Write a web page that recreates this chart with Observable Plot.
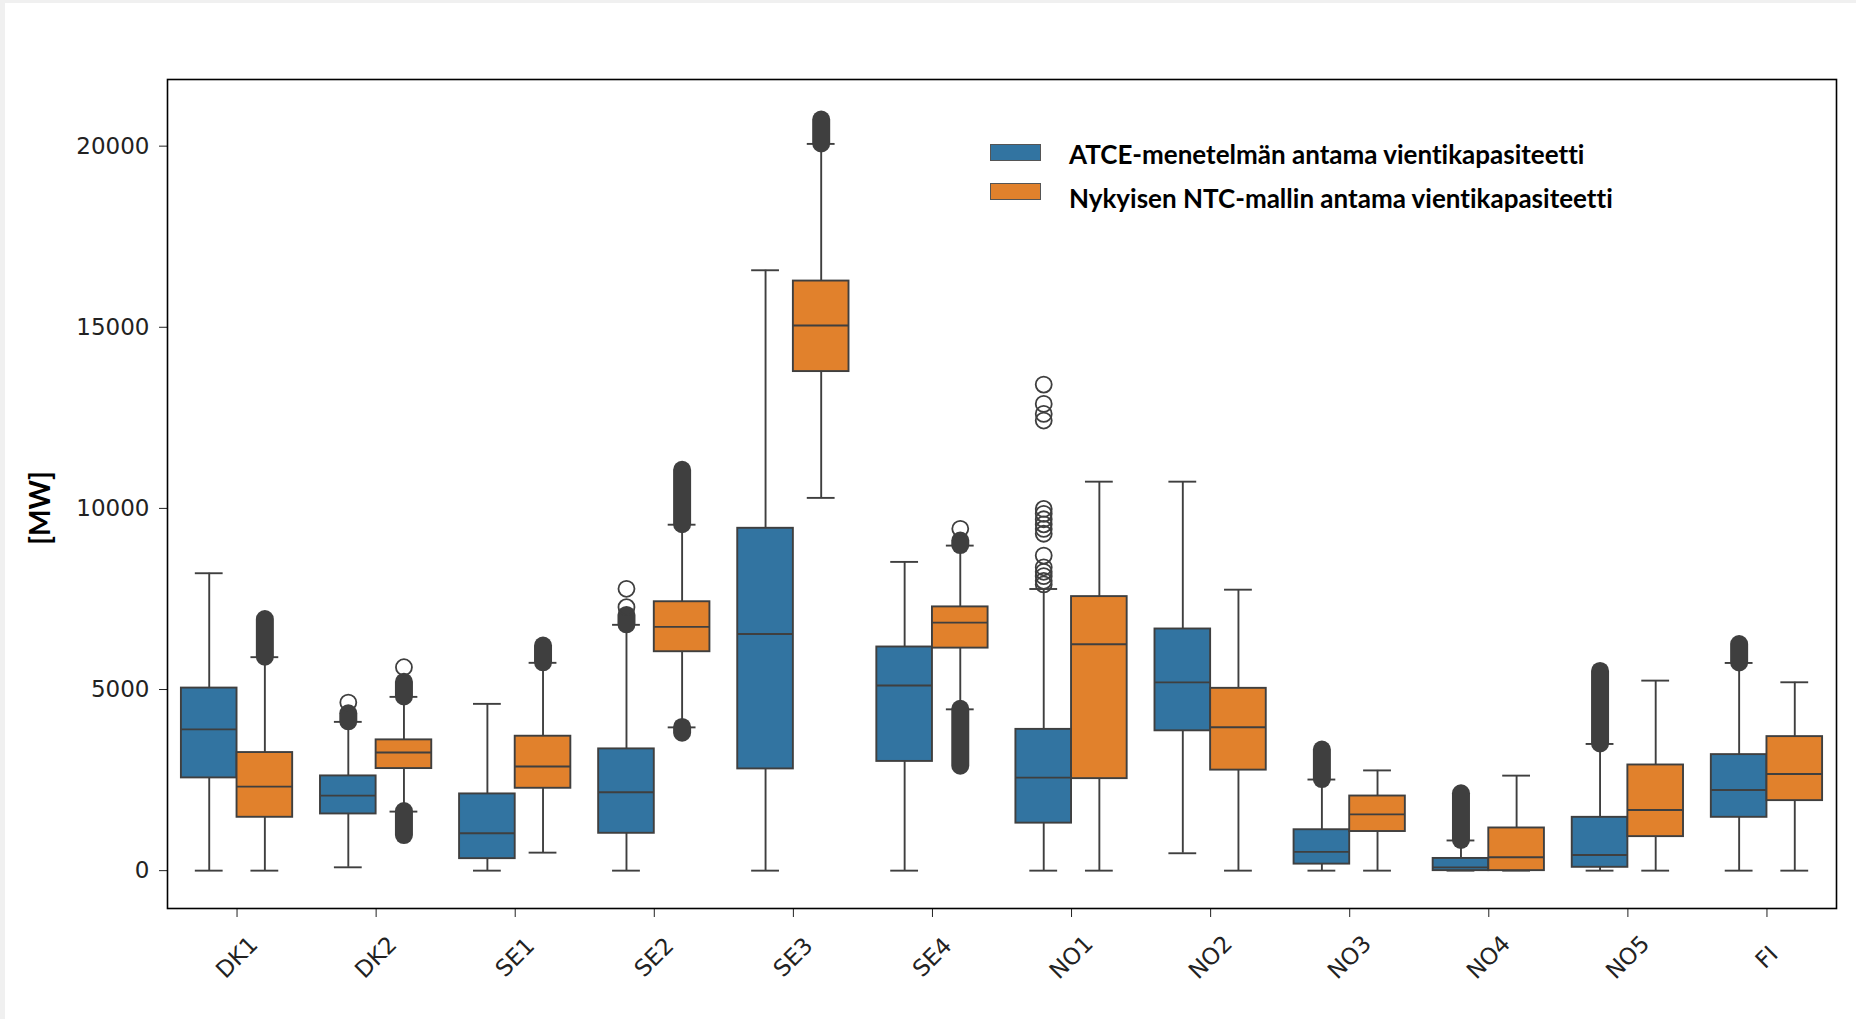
<!DOCTYPE html>
<html>
<head>
<meta charset="utf-8">
<script src="https://cdn.jsdelivr.net/npm/d3@7"></script>
<script src="https://cdn.jsdelivr.net/npm/@observablehq/plot@0.6"></script>
<style>
  html, body { margin: 0; padding: 0; background: #fff; }
  #wrap { position: relative; width: 1856px; height: 1019px; overflow: hidden; background: #fff; }
  .strip { position: absolute; background: #f0f0f0; }
  #ylabel {
    position: absolute; left: 39px; top: 508px;
    transform: translate(-50%, -50%) rotate(-90deg);
    font-family: Lato, "Open Sans", sans-serif; font-weight: 700; font-size: 28px; color: #000;
    white-space: nowrap;
  }
  .sw { position: absolute; left: 990px; width: 49px; height: 15px; border: 1.6px solid #555; }
  .lt { position: absolute; left: 1069px; font-family: Lato, "Open Sans", sans-serif; font-weight: 700; font-size: 26px; color: #000; white-space: nowrap; line-height: 1; font-variant-ligatures: none; font-feature-settings: "liga" 0; }
</style>
</head>
<body>
<div id="wrap">
  <div id="chart"></div>
  <div class="strip" style="left:0;top:0;width:5px;height:1019px"></div>
  <div class="strip" style="left:0;top:0;width:1856px;height:3px"></div>
  <div id="ylabel">[MW]</div>
</div>
<script>
// Categories (bidding zones)
const cats = ["DK1", "DK2", "SE1", "SE2", "SE3", "SE4", "NO1", "NO2", "NO3", "NO4", "NO5", "FI"];
const seriesNames = ["ATCE-menetelmän antama vientikapasiteetti", "Nykyisen NTC-mallin antama vientikapasiteetti"];
const seriesColors = ["#3274a1", "#e1812c"];
const yTicks = [0, 5000, 10000, 15000, 20000];

// ATCE series (blue): whisker low, Q1, median, Q3, whisker high
const atceLow  = [0, 92, 0, 0, 0, 0, 0, 480, 0, 0, 0, 0];
const atceQ1   = [2560, 1565, 331, 1031, 2808, 3015, 1311, 3860, 180, 0, 92, 1472];
const atceMed  = [3900, 2072, 1031, 2164, 6532, 5111, 2568, 5196, 519, 90, 432, 2227];
const atceQ3   = [5040, 2615, 2118, 3361, 9451, 6174, 3900, 6671, 1129, 337, 1472, 3203];
const atceHigh = [8210, 4107, 4604, 6786, 16574, 8523, 7775, 10738, 2515, 833, 3497, 5733];
// individual outliers
const atceOut = [[], [4641], [], [7274, 7781], [], [],
  [13418, 12885, 12609, 12425, 9986, 9850, 9700, 9560, 9434, 9300, 8697, 8374, 8250, 8130, 8000, 7900],
  [], [], [], [], []];
// dense outlier runs [from, to]
const atceRuns = [[], [[4107, 4330]], [], [[6786, 7044]], [], [], [], [],
  [[2515, 3330]], [[833, 2120]], [[3497, 5500]], [[5733, 6240]]];

// NTC series (orange)
const ntcLow  = [0, 1630, 497, 3955, 10290, 4453, 0, 0, 0, 0, 0, 0];
const ntcQ1   = [1473, 2818, 2274, 6043, 13777, 6143, 2540, 2775, 1080, 0, 939, 1933];
const ntcMed  = [2320, 3260, 2873, 6729, 15047, 6847, 6248, 3957, 1554, 368, 1675, 2669];
const ntcQ3   = [3260, 3610, 3711, 7423, 16276, 7281, 7565, 5033, 2060, 1178, 2917, 3700];
const ntcHigh = [5893, 4797, 5737, 9550, 20062, 8973, 10738, 7756, 2767, 2623, 5246, 5200];
const ntcOut  = [[], [5617], [], [], [], [9437], [], [], [], [], [], []];
const ntcRuns = [[[5893, 6930]], [[4797, 5200], [967, 1630]], [[5737, 6200]], [[9550, 11050], [3794, 3955]],
  [[20062, 20720]], [[8973, 9100], [2883, 4453]], [], [], [], [], [], []];

// ---- build tables ----
const stats = [
  {lo: atceLow, q1: atceQ1, med: atceMed, q3: atceQ3, hi: atceHigh, out: atceOut, runs: atceRuns},
  {lo: ntcLow, q1: ntcQ1, med: ntcMed, q3: ntcQ3, hi: ntcHigh, out: ntcOut, runs: ntcRuns}
];
const boxW = 0.4;
const boxes = [], outs = [], runs = [];
cats.forEach((c, i) => {
  stats.forEach((s, k) => {
    const x1 = i - boxW + boxW * k, x2 = x1 + boxW, xc = x1 + boxW / 2;
    boxes.push({cat: c, x1, x2, xc, lo: s.lo[i], q1: s.q1[i], med: s.med[i], q3: s.q3[i], hi: s.hi[i], color: seriesColors[k]});
    s.out[i].forEach(v => outs.push({xc, v}));
    s.runs[i].forEach(([a, b]) => runs.push({xc, a, b}));
  });
});

const edge = "#3f3f3f";
const chart = Plot.plot({
  width: 1856,
  height: 1019,
  marginLeft: 167,
  marginRight: 20,
  marginTop: 79,
  marginBottom: 111,
  style: {fontFamily: "DejaVu Sans, sans-serif", fontSize: "23px", color: "#222", background: "transparent"},
  x: {domain: [-0.5, 11.5]},
  y: {domain: [-1045, 21840]},
  color: {type: "identity"},
  marks: [
    Plot.axisX({ticks: d3.range(cats.length), tickSize: 9, tickFormat: () => "", label: null}),
    Plot.axisY({ticks: yTicks, tickFormat: "d", tickSize: 8, tickPadding: 10, label: null}),
    Plot.text(cats, {x: (d, i) => i, frameAnchor: "bottom", dy: 49, rotate: -45, textAnchor: "middle", lineAnchor: "middle", fill: "#222"}),
    // whiskers
    Plot.ruleX(boxes, {x: "xc", y1: "q3", y2: "hi", stroke: edge, strokeWidth: 1.9}),
    Plot.ruleX(boxes, {x: "xc", y1: "lo", y2: "q1", stroke: edge, strokeWidth: 1.9}),
    // caps
    Plot.ruleY(boxes, {x1: d => d.xc - boxW / 4, x2: d => d.xc + boxW / 4, y: "hi", stroke: edge, strokeWidth: 1.9}),
    Plot.ruleY(boxes, {x1: d => d.xc - boxW / 4, x2: d => d.xc + boxW / 4, y: "lo", stroke: edge, strokeWidth: 1.9}),
    // boxes
    Plot.rect(boxes, {x1: "x1", x2: "x2", y1: "q1", y2: "q3", fill: "color", stroke: edge, strokeWidth: 1.9}),
    // medians
    Plot.ruleY(boxes, {x1: "x1", x2: "x2", y: "med", stroke: edge, strokeWidth: 1.9}),
    // dense outlier runs
    Plot.ruleX(runs, {x: "xc", y1: "a", y2: "b", stroke: edge, strokeWidth: 18, strokeLinecap: "round"}),
    // individual outliers
    Plot.dot(outs, {x: "xc", y: "v", r: 8, stroke: edge, strokeWidth: 1.8, fill: "none"}),
    Plot.frame({stroke: "#000", strokeWidth: 1.6})
  ]
});
document.getElementById("chart").appendChild(chart);

// legend
const wrap = document.getElementById("wrap");
const swTops = [144, 183];
const textTops = [141, 185];
seriesNames.forEach((name, k) => {
  const sw = document.createElement("div");
  sw.className = "sw";
  sw.style.top = swTops[k] + "px";
  sw.style.background = seriesColors[k];
  const t = document.createElement("div");
  t.className = "lt";
  t.style.top = textTops[k] + "px";
  t.textContent = name;
  wrap.appendChild(sw);
  wrap.appendChild(t);
});
</script>
</body>
</html>
